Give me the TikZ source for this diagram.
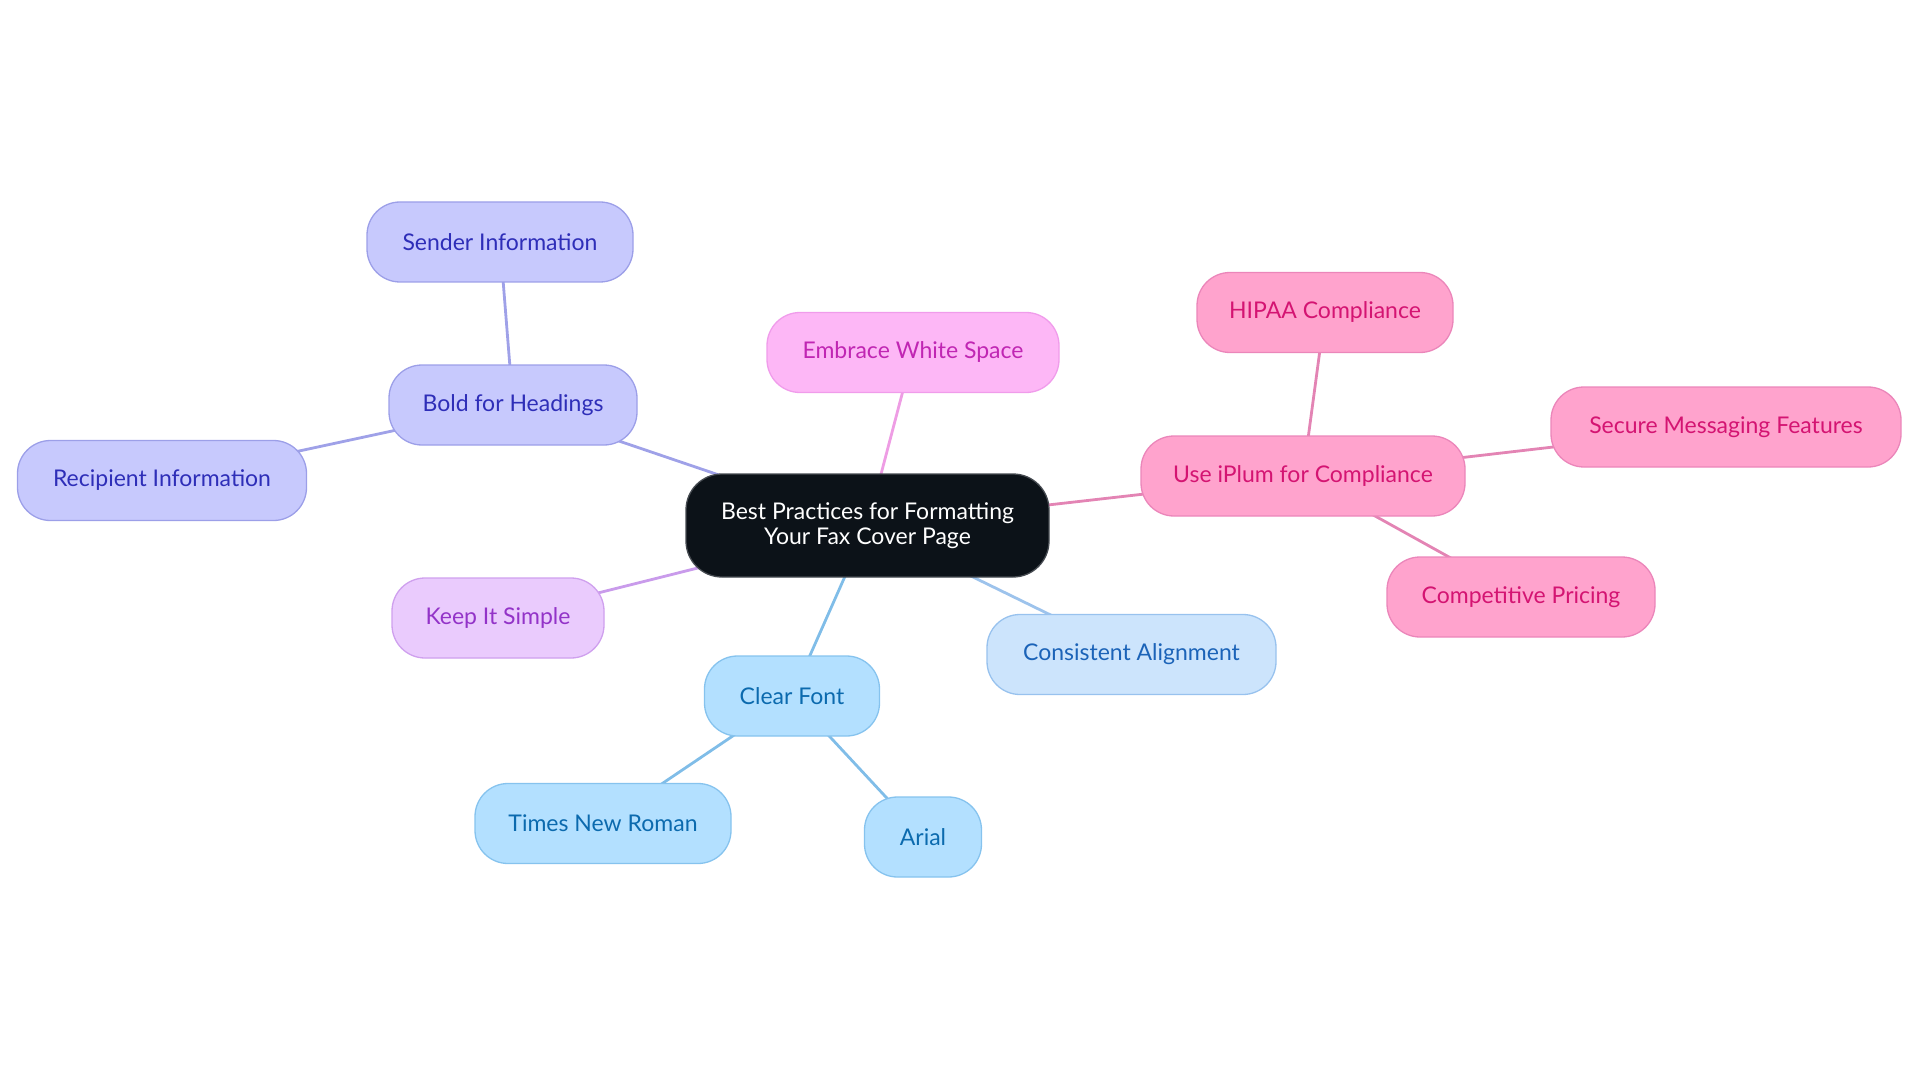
\documentclass[tikz,border=0pt]{standalone}
\usepackage{fontspec}
\setmainfont{Lato}
\usetikzlibrary{backgrounds}
\definecolor{purF}{HTML}{C7C9FD}\definecolor{purD}{HTML}{9C9FE8}\definecolor{purT}{HTML}{2E2EB8}
\definecolor{magF}{HTML}{FDB7F6}\definecolor{magD}{HTML}{F09CEB}\definecolor{magT}{HTML}{C026B3}
\definecolor{lavF}{HTML}{EACBFD}\definecolor{lavD}{HTML}{CFA0EE}\definecolor{lavT}{HTML}{9333C8}
\definecolor{cyaF}{HTML}{CCE4FC}\definecolor{cyaD}{HTML}{98C2EE}\definecolor{cyaT}{HTML}{1B63B8}
\definecolor{bluF}{HTML}{B3E0FF}\definecolor{bluD}{HTML}{86C3EE}\definecolor{bluT}{HTML}{0B6AAE}
\definecolor{pnkF}{HTML}{FFA3CD}\definecolor{pnkD}{HTML}{EB86BA}\definecolor{pnkT}{HTML}{D41472}
\definecolor{cenF}{HTML}{0C1218}\definecolor{cenD}{HTML}{454A50}
\definecolor{ePur}{HTML}{9FA1E8}\definecolor{eMag}{HTML}{EE9DE4}\definecolor{eLav}{HTML}{C99BEB}
\definecolor{eCya}{HTML}{9DC3EC}\definecolor{eBlu}{HTML}{80BDE8}\definecolor{ePnk}{HTML}{E384B4}
\tikzset{
  box/.style={rounded corners=33pt, line width=1.3pt, minimum height=80pt, inner sep=0pt,
    font=\fontsize{23}{25}\selectfont, align=center},
  purbox/.style={box, fill=purF, draw=purD, text=purT},
  magbox/.style={box, fill=magF, draw=magD, text=magT},
  lavbox/.style={box, fill=lavF, draw=lavD, text=lavT},
  cyabox/.style={box, fill=cyaF, draw=cyaD, text=cyaT},
  blubox/.style={box, fill=bluF, draw=bluD, text=bluT},
  pnkbox/.style={box, fill=pnkF, draw=pnkD, text=pnkT},
  cenbox/.style={box, rounded corners=36pt, fill=cenF, draw=cenD, text=white, minimum height=103pt},
  link/.style={line width=2.8pt}
}
\begin{document}
\begin{tikzpicture}[x=1pt,y=-1pt]
\useasboundingbox (0,0) rectangle (1920,1083);
\node[cenbox, minimum width=363pt] (c) at (867.5,525.5) {Best Practices for Formatting\\Your Fax Cover Page};
\node[magbox, minimum width=292pt] (ews) at (913,352.5) {Embrace White Space};
\node[purbox, minimum width=248pt] (bfh) at (513,405) {Bold for Headings};
\node[purbox, minimum width=266pt] (si) at (500,242) {Sender Information};
\node[purbox, minimum width=289pt] (ri) at (162,480.5) {Recipient Information};
\node[lavbox, minimum width=212pt] (kis) at (498,618) {Keep It Simple};
\node[blubox, minimum width=175pt] (cf) at (792,696) {Clear Font};
\node[blubox, minimum width=256pt] (tnr) at (603,823.5) {Times New Roman};
\node[blubox, minimum width=117pt] (ar) at (923,837) {Arial};
\node[cyabox, minimum width=289pt] (ca) at (1131.5,654.5) {Consistent Alignment};
\node[pnkbox, minimum width=324pt] (ip) at (1303,476) {Use iPlum for Compliance};
\node[pnkbox, minimum width=256pt] (hc) at (1325,312.5) {HIPAA Compliance};
\node[pnkbox, minimum width=350pt] (smf) at (1726,427) {Secure Messaging Features};
\node[pnkbox, minimum width=268pt] (cp) at (1521,597) {Competitive Pricing};
\begin{scope}[on background layer]
\draw[link, ePur] (c.center) -- (bfh.center);
\draw[link, ePur] (bfh.center) -- (si.center);
\draw[link, ePur] (bfh.center) -- (ri.center);
\draw[link, eMag] (c.center) -- (ews.center);
\draw[link, eLav] (c.center) -- (kis.center);
\draw[link, eBlu] (c.center) -- (cf.center);
\draw[link, eBlu] (cf.center) -- (tnr.center);
\draw[link, eBlu] (cf.center) -- (ar.center);
\draw[link, eCya] (c.center) -- (ca.center);
\draw[link, ePnk] (c.center) -- (ip.center);
\draw[link, ePnk] (ip.center) -- (hc.center);
\draw[link, ePnk] (ip.center) -- (smf.center);
\draw[link, ePnk] (ip.center) -- (cp.center);
\end{scope}
\end{tikzpicture}
\end{document}
